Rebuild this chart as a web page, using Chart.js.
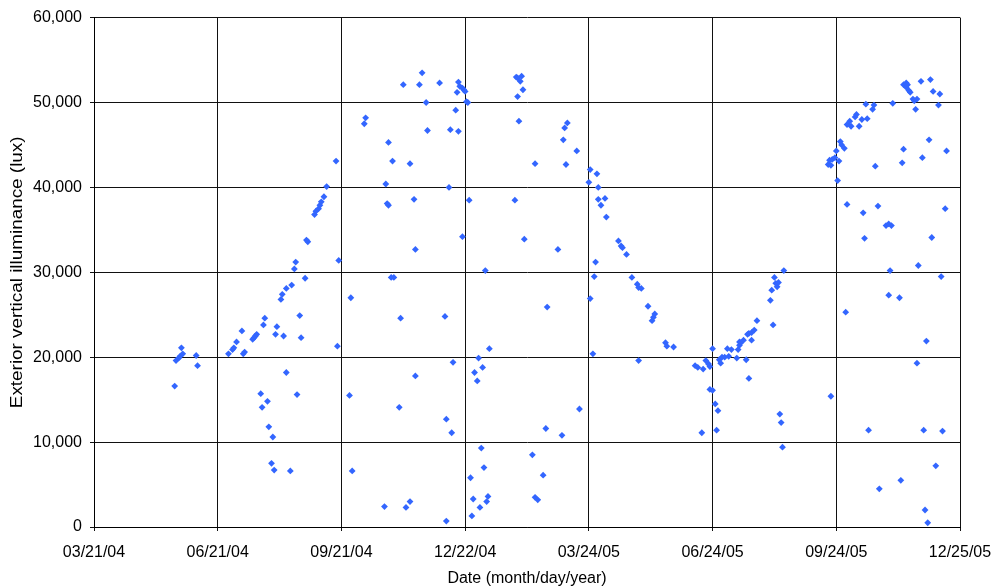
<!DOCTYPE html>
<html>
<head>
<meta charset="utf-8">
<title>Exterior vertical illuminance</title>
<script src="https://cdn.jsdelivr.net/npm/chart.js@4/dist/chart.umd.min.js"></script>
<style>
  html, body { margin: 0; padding: 0; background: #fff; }
  #wrap { width: 995px; height: 588px; }
</style>
</head>
<body>
<div id="wrap"><canvas id="lux-chart" width="995" height="588"></canvas></div>
<script>
'use strict';

// days counted from 03/21/04 (first tick); ticks every 92 days
var startDate = [2004, 2, 21];
var tickStep = 92;
var dayMax = 644;

var yTicks = [0, 10000, 20000, 30000, 40000, 50000, 60000];

var measureDays = [
  60, 61, 63, 64, 65, 66, 76, 77, 100, 103,
  104, 106, 110, 111, 112, 118, 119, 120, 121, 124,
  125, 126, 127, 129, 130, 132, 133, 134, 135, 136,
  139, 140, 141, 143, 143, 146, 147, 149, 150, 151,
  153, 154, 157, 158, 159, 164, 165, 167, 168, 169,
  171, 173, 180, 181, 182, 190, 191, 192, 201, 202,
  216, 217, 218, 219, 219, 221, 222, 223, 227, 228,
  230, 232, 235, 235, 238, 239, 239, 242, 244, 247,
  248, 257, 261, 262, 262, 264, 265, 266, 267, 269,
  270, 271, 271, 272, 274, 274, 275, 276, 277, 278,
  279, 280, 281, 282, 283, 285, 286, 287, 288, 289,
  290, 291, 292, 293, 294, 313, 314, 315, 315, 316,
  317, 318, 319, 320, 326, 328, 328, 330, 334, 336,
  337, 345, 348, 349, 350, 351, 352, 359, 361, 368,
  369, 369, 371, 372, 373, 374, 375, 375, 377, 380,
  381, 390, 392, 393, 396, 400, 404, 405, 405, 407,
  412, 415, 416, 417, 425, 426, 431, 447, 449, 452,
  453, 455, 457, 458, 458, 460, 460, 462, 463, 464,
  465, 466, 467, 469, 471, 472, 474, 478, 479, 480,
  480, 481, 483, 485, 486, 487, 487, 489, 489, 491,
  493, 503, 504, 505, 506, 507, 508, 509, 510, 511,
  512, 513, 546, 547, 548, 548, 549, 551, 552, 553,
  554, 555, 556, 558, 559, 560, 560, 562, 563, 566,
  567, 569, 571, 572, 573, 574, 575, 576, 579, 580,
  581, 583, 584, 589, 591, 591, 592, 593, 594, 599,
  600, 601, 602, 602, 604, 604, 605, 606, 607, 609,
  610, 611, 612, 612, 613, 615, 616, 617, 618, 619,
  620, 621, 622, 623, 624, 626, 628, 629, 630, 631,
  633, 634
];

var luxValues = [
  16600, 19600, 19900, 20100, 21100, 20400, 20200, 19000, 20400, 20900,
  21100, 21800, 23100, 20400, 20600, 22100, 22300, 22500, 22700, 15700,
  14100, 23800, 24600, 14800, 11800, 7500, 10600, 6700, 22700, 23600,
  26800, 27400, 22500, 28100, 18200, 6600, 28500, 30400, 31200, 15600,
  24900, 22300, 29300, 33800, 33600, 36800, 37200, 37500, 37900, 38300,
  38900, 40100, 43100, 21300, 31400, 15500, 27000, 6600, 47500, 48200,
  2400, 40400, 38100, 45300, 37900, 29400, 43100, 29400, 14100, 24600,
  52100, 2300, 3000, 42800, 38600, 17800, 32700, 52100, 53500, 50000,
  46700, 52300, 24800, 700, 12700, 40000, 46800, 11100, 19400, 49100,
  51200, 46600, 52400, 51900, 51700, 34200, 51500, 51300, 50100, 50000,
  38500, 5800, 1300, 3300, 18200, 17200, 19900, 2300, 9300, 18800,
  7000, 30200, 3000, 3600, 21000, 38500, 53000, 50700, 52900, 47800,
  52500, 53100, 51500, 33900, 8500, 42800, 3500, 3200, 6100, 11600,
  25900, 32700, 10800, 45600, 47000, 42700, 47600, 44300, 13900, 40600,
  42100, 26900, 20400, 29500, 31200, 41600, 40000, 38600, 37900, 38700,
  36500, 33700, 33100, 32900, 32100, 29400, 28600, 19600, 28200, 28100,
  26000, 24300, 24700, 25100, 21700, 21300, 21200, 19000, 18800, 11100,
  18600, 19600, 19200, 18900, 16200, 21000, 16100, 14500, 11400, 13700,
  19700, 19300, 20000, 20000, 21000, 20100, 20900, 19900, 20900, 21400,
  21800, 21700, 22000, 19700, 22700, 17500, 22800, 22000, 22900, 23200,
  24300, 26700, 27900, 23800, 29400, 28700, 28300, 28800, 13300, 12300,
  9400, 30200, 42700, 43200, 15400, 42600, 43300, 43500, 44300, 40800,
  43100, 45400, 45000, 44600, 25300, 38000, 47400, 47800, 47200, 48300,
  48600, 47200, 48000, 37000, 34000, 49800, 48100, 11400, 49200, 49700,
  42500, 37800, 4500, 35500, 27300, 35700, 30200, 35500, 49900, 27000,
  5500, 42900, 44500, 52100, 51800, 52300, 52100, 51400, 51200, 50400,
  50200, 49200, 50400, 19300, 30800, 52500, 43500, 11400, 2000, 21900,
  500, 45600, 52700, 34100, 51300, 7200, 49700, 51000, 29500, 11300,
  37500, 44300
];

var fontFamily = "'Liberation Sans', Arial, sans-serif";

function dayLabel(value) {
  var d = new Date(Date.UTC(startDate[0], startDate[1], startDate[2] + value));
  var mm = String(d.getUTCMonth() + 1).padStart(2, '0');
  var dd = String(d.getUTCDate()).padStart(2, '0');
  var yy = String(d.getUTCFullYear() % 100).padStart(2, '0');
  return mm + '/' + dd + '/' + yy;
}

function buildPoints() {
  var pts = [];
  for (var i = 0; i < measureDays.length; i++) {
    pts.push({x: measureDays[i], y: luxValues[i]});
  }
  return pts;
}

// the old excel title is drawn a bit stretched along its length
function stretchTitle(scale, factor) {
  if (scale._stretched) return;
  var base = scale.drawTitle;
  scale.drawTitle = function() {
    var c = this.ctx;
    var mid = (this.top + this.bottom) / 2;
    c.save();
    c.translate(0, mid);
    c.scale(1, factor);
    c.translate(0, -mid);
    base.call(this);
    c.restore();
  };
  scale._stretched = true;
}

function drawChart() {
  var ctx = document.getElementById('lux-chart');
  new Chart(ctx, {
    type: 'scatter',
    data: {
      datasets: [{
        label: 'Exterior vertical illuminance',
        data: buildPoints(),
        pointStyle: 'rectRot',
        pointRadius: 3.4,
        pointHoverRadius: 3.4,
        borderWidth: 0,
        backgroundColor: '#3366ff',
        borderColor: '#3366ff'
      }]
    },
    options: {
      responsive: false,
      animation: false,
      layout: {padding: {top: 15, right: 35, left: 0, bottom: 0}},
      plugins: {legend: {display: false}, tooltip: {enabled: false}},
      scales: {
        x: {
          type: 'linear',
          min: 0,
          max: dayMax,
          afterFit: function(scale) {
            scale.height = 61;
            scale.paddingLeft = 0;
            scale.paddingRight = 0;
          },
          ticks: {
            stepSize: tickStep,
            autoSkip: false,
            maxRotation: 0,
            padding: 12,
            color: '#000',
            font: {family: fontFamily, size: 16},
            callback: function(v) { return dayLabel(v); }
          },
          grid: {color: '#111', lineWidth: 1, tickLength: 4},
          border: {color: '#000', width: 1},
          title: {
            display: true,
            text: 'Date (month/day/year)',
            color: '#000',
            font: {family: fontFamily, size: 16},
            padding: {top: 0, bottom: 0}
          }
        },
        y: {
          min: yTicks[0],
          max: yTicks[yTicks.length - 1],
          afterFit: function(scale) {
            scale.width = 94;
            stretchTitle(scale, 1.18);
          },
          afterBuildTicks: function(scale) {
            scale.ticks = yTicks.map(function(v) { return {value: v}; });
          },
          ticks: {
            padding: 8,
            color: '#000',
            font: {family: fontFamily, size: 16},
            callback: function(v) { return v.toLocaleString('en-US'); }
          },
          grid: {color: '#111', lineWidth: 1, tickLength: 4},
          border: {color: '#000', width: 1},
          title: {
            display: true,
            text: 'Exterior vertical illuminance (lux)',
            color: '#000',
            font: {family: fontFamily, size: 16},
            padding: {top: 8, bottom: 0}
          }
        }
      }
    }
  });
}

drawChart();
</script>
</body>
</html>
